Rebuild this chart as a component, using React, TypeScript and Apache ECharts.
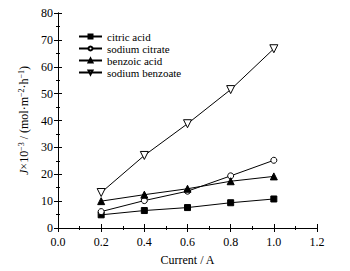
import React, { useEffect, useRef } from "react";
import * as echarts from "echarts";

const currents = [0.2, 0.4, 0.6, 0.8, 1.0];
const citricAcid = [4.9, 6.5, 7.6, 9.4, 10.8];
const sodiumCitrate = [6.1, 10.2, 13.7, 19.4, 25.2];
const benzoicAcid = [10.0, 12.4, 14.6, 17.4, 19.2];
const sodiumBenzoate = [13.2, 27.0, 38.8, 51.5, 66.7];
const seriesNames = ["citric acid", "sodium citrate", "benzoic acid", "sodium benzoate"];

const FONT = "Liberation Serif";
const INV_TRI = "path://M0,0 L10,0 L5,9 Z";

export default function App() {
  const ref = useRef<HTMLDivElement>(null);
  useEffect(() => {
    document.body.style.margin = "0";
    const chart = echarts.init(ref.current!, null, { renderer: "svg" });
    const pair = (ys: number[]) => currents.map((x, i) => [x, ys[i]]);
    const mk = (name: string, ys: number[], symbol: string, filled: boolean, size: number) => ({
      name,
      type: "line",
      data: pair(ys),
      symbol,
      symbolSize: size,
      lineStyle: { color: "#000", width: 1 },
      itemStyle: { color: filled ? "#000" : "#fff", borderColor: "#000", borderWidth: 1 },
      emphasis: { disabled: true },
    });
    const axisCommon = {
      axisLine: { show: true, lineStyle: { color: "#000", width: 1 } },
      axisTick: { show: true, inside: true, length: 4, lineStyle: { color: "#000" } },
      minorTick: { show: true, splitNumber: 2, length: 2, lineStyle: { color: "#000" } },
      splitLine: { show: false },
    };
    chart.setOption({
      animation: false,
      textStyle: { fontFamily: FONT },
      grid: { left: 58, right: 33, top: 13, bottom: 40 },
      legend: {
        left: 73,
        top: 26,
        orient: "vertical",
        itemWidth: 23,
        itemHeight: 5,
        itemGap: 1,
        textStyle: { fontFamily: "serif", fontSize: 11, color: "#000" },
        data: seriesNames,
      },
      xAxis: [
        {
          type: "value",
          min: 0,
          max: 1.2,
          interval: 0.2,
          ...axisCommon,
          axisLabel: { fontFamily: FONT, fontSize: 12, color: "#000", margin: 8, formatter: (v: number) => v.toFixed(1) },
          name: "Current / A",
          nameLocation: "middle",
          nameGap: 26,
          nameTextStyle: { fontFamily: FONT, fontSize: 12, color: "#000" },
        },
        {
          type: "value",
          position: "top",
          min: 0,
          max: 1.2,
          interval: 0.2,
          ...axisCommon,
          axisLabel: { show: false },
        },
      ],
      yAxis: [
        {
          type: "value",
          min: 0,
          max: 80,
          interval: 10,
          ...axisCommon,
          axisLabel: { fontFamily: FONT, fontSize: 12, color: "#000", margin: 5 },
          name: "{i|J}{n|×10}{s|−3}{n| / (mol·m}{s|−2}{n|·h}{s|−1}{n|)}",
          nameLocation: "middle",
          nameRotate: 90,
          nameGap: 25,
          nameTextStyle: {
            fontFamily: FONT,
            fontSize: 12,
            color: "#000",
            rich: {
              i: { fontFamily: FONT, fontSize: 12, fontStyle: "italic", color: "#000" },
              n: { fontFamily: FONT, fontSize: 12, color: "#000" },
              s: { fontFamily: FONT, fontSize: 8, color: "#000", verticalAlign: "top", padding: [0, 0, 6, 0] },
            },
          },
        },
        {
          type: "value",
          position: "right",
          min: 0,
          max: 80,
          interval: 10,
          ...axisCommon,
          axisLabel: { show: false },
        },
      ],
      series: [
        mk(seriesNames[0], citricAcid, "rect", true, 6),
        mk(seriesNames[1], sodiumCitrate, "circle", false, 6),
        mk(seriesNames[2], benzoicAcid, "triangle", true, 7),
        mk(seriesNames[3], sodiumBenzoate, INV_TRI, false, 8),
      ],
    });
    return () => chart.dispose();
  }, []);
  return <div ref={ref} style={{ width: 350, height: 271 }} />;
}
